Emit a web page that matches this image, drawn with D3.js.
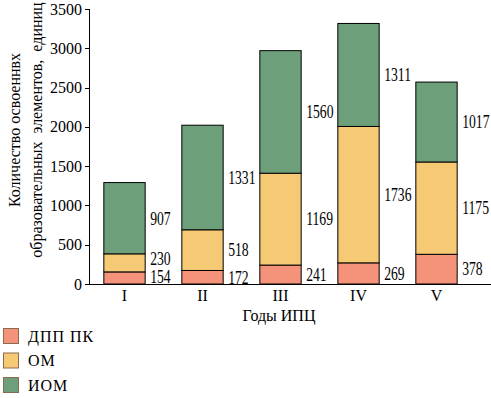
<!DOCTYPE html>
<html><head><meta charset="utf-8">
<script src="https://cdn.jsdelivr.net/npm/d3@7"></script>
<style>body{margin:0;background:#fff}svg{display:block}</style>
</head><body><svg id="c" width="491" height="398" style="font-family:'Liberation Serif','Times New Roman',Times,serif"></svg>
<script>
const categories = ["I","II","III","IV","V"];
const seriesNames = ["ДПП ПК","ОМ","ИОМ"];
const dpp = [154,172,241,269,378];
const om = [230,518,1169,1736,1175];
const iom = [907,1331,1560,1311,1017];
const yTicks = [0,500,1000,1500,2000,2500,3000,3500];
const colors = ["#f4937a","#f6ca74","#6c9f7a"];
const FF = "'Liberation Serif','Times New Roman',Times,serif";

const svg = d3.select("#c");
const x = d3.scaleBand().domain(categories).range([85.5,475.5]).paddingInner(0.47).paddingOuter(0.235);
const y = d3.scaleLinear().domain([0,3500]).range([284,9]);

const data = categories.map((c,i)=>({cat:c, "ДПП ПК":dpp[i], "ОМ":om[i], "ИОМ":iom[i]}));
const stack = d3.stack().keys(seriesNames)(data);

function txt(sel){ return sel.style("font-family",FF).attr("fill","#000"); }

const g = svg.append("g");
stack.forEach((layer,li)=>{
  g.selectAll(null).data(layer).enter().append("rect")
    .attr("x",d=>x(d.data.cat)).attr("width",x.bandwidth())
    .attr("y",d=>y(d[1])).attr("height",d=>y(d[0])-y(d[1]))
    .attr("fill",colors[li]).attr("stroke","#000").attr("stroke-width",1);
  txt(g.selectAll(null).data(layer).enter().append("text"))
    .attr("transform",d=>{
      const ty = (y(d[0])+y(d[1]))/2 + (d.data.cat==="I" && li===0 ? -1.5 : 0) + (d.data.cat==="I" && li===1 ? -4 : 0);
      return `translate(${x(d.data.cat)+x.bandwidth()+5},${ty}) scale(0.76,1)`;
    })
    .attr("dy","0.35em").attr("font-size",18)
    .text(d=>d[1]-d[0]);
});

svg.append("line").attr("x1",89.5).attr("x2",89.5).attr("y1",y(3500)).attr("y2",284.5).attr("stroke","#000");
svg.append("line").attr("x1",89).attr("x2",491).attr("y1",284.5).attr("y2",284.5).attr("stroke","#000");
const ya = svg.append("g");
yTicks.forEach(t=>{
  ya.append("line").attr("x1",85).attr("x2",89.5).attr("y1",Math.round(y(t))+0.5).attr("y2",Math.round(y(t))+0.5).attr("stroke","#000");
  txt(ya.append("text")).attr("x",82).attr("y",y(t)).attr("dy","0.35em").attr("text-anchor","end")
    .attr("font-size",16).text(t);
});
categories.forEach(c=>{
  txt(svg.append("text")).attr("x",x(c)+x.bandwidth()/2).attr("y",301).attr("text-anchor","middle").attr("font-size",16).text(c);
});
txt(svg.append("text")).attr("x",279).attr("y",321).attr("text-anchor","middle").attr("font-size",16).text("Годы ИПЦ");

const yt = txt(svg.append("text")).attr("transform","translate(20,130) rotate(-90)").attr("text-anchor","middle").attr("font-size",16);
yt.append("tspan").attr("x",0).attr("y",0).text("Количество освоеннвх");
yt.append("tspan").attr("x",0).attr("y",22).style("white-space","pre").text("образовательных  элементов,  единиц");

const lg = svg.append("g");
seriesNames.forEach((n,i)=>{
  lg.append("rect").attr("x",3.5).attr("y",328.5+i*24.5).attr("width",15).attr("height",15)
    .attr("fill",colors[i]).attr("stroke","#8a6a50").attr("stroke-width",1);
  txt(lg.append("text")).attr("x",28).attr("y",336+i*24.5).attr("dy","0.35em").attr("font-size",16)
    .attr("letter-spacing","1").text(n);
});
</script></body></html>
